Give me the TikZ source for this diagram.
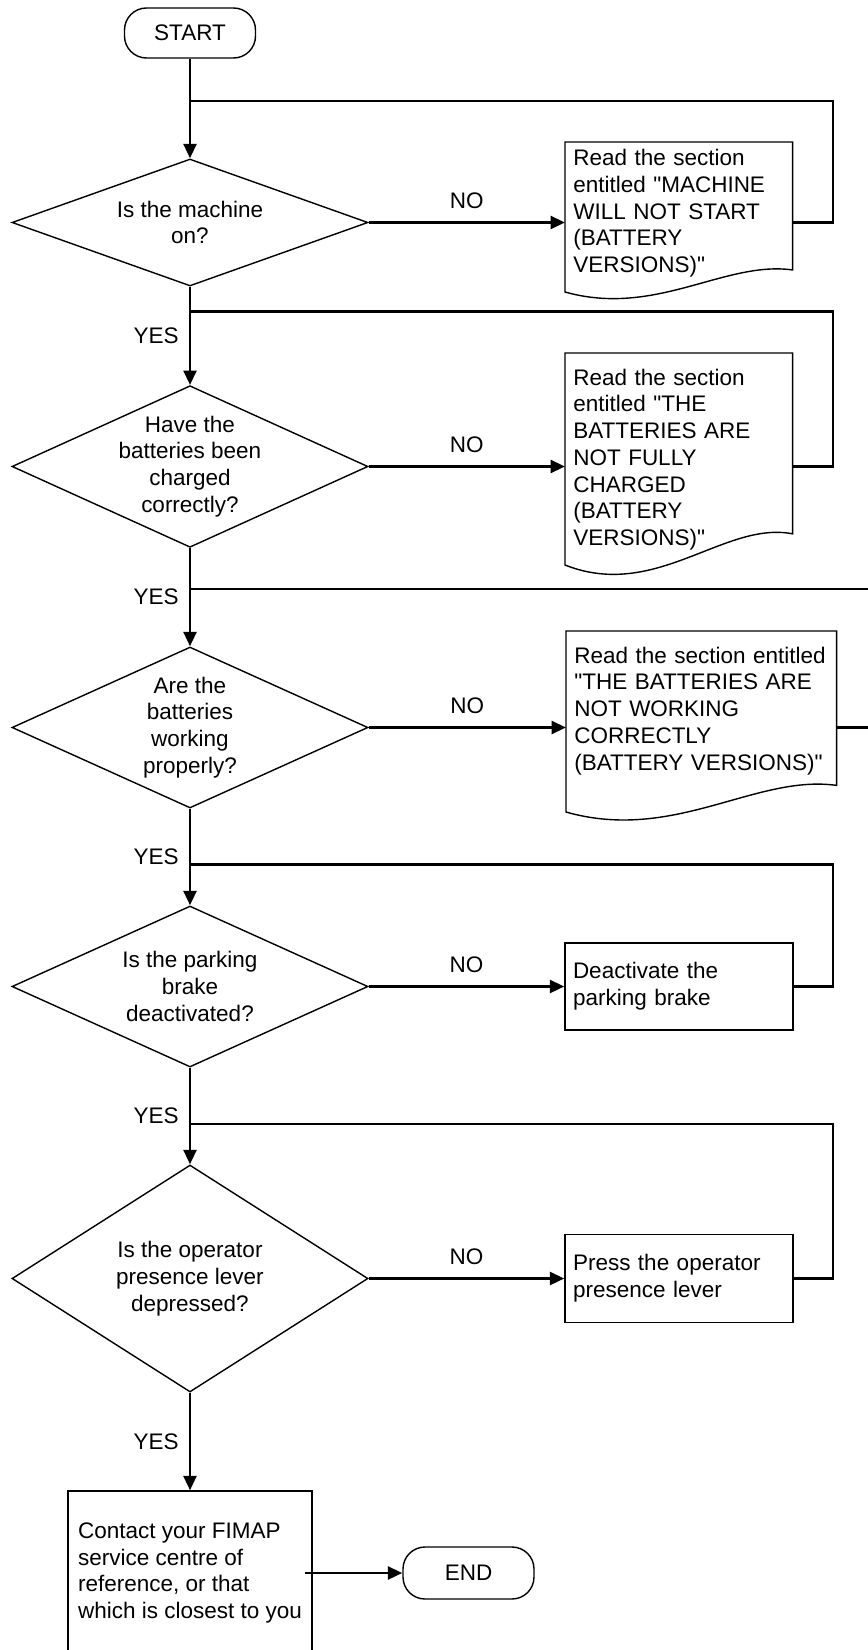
\documentclass[tikz,border=0pt]{standalone}
\usepackage{fontspec}
\setmainfont{Liberation Sans}
\usetikzlibrary{arrows.meta,calc,positioning,shapes.geometric}

\begin{document}
\begin{tikzpicture}[
  font=\fontsize{16}{19}\selectfont,
  terminal/.style={rounded corners=0.55cm,draw,line width=0.035cm,minimum width=3.275cm,minimum height=1.25cm},
  decision/.style={diamond,draw,line width=0.035cm,inner sep=0pt,minimum width=8.9cm},
  question/.style={align=center,inner sep=0pt},
  docnode/.style={anchor=north west,align=left,inner xsep=0.2cm},
  docline/.style={line width=0.035cm},
  action/.style={draw,line width=0.035cm,align=left,inner xsep=0.2cm},
  link/.style={-{Triangle[length=0.36cm,width=0.32cm]},line width=0.07cm},
  loopback/.style={line width=0.07cm},
  answer/.style={inner sep=0pt}
]
\path[use as bounding box,fill=white] (0,0) rectangle (21.675,-41.25);

\node[terminal] (start) at (4.75,-0.825) {START};

\coordinate (rail) at (20.825,0);
\coordinate (j1) at (4.75,-2.525);
\coordinate (j2) at (4.75,-7.7875);
\coordinate (j3) at (4.75,-14.725);
\coordinate (j4) at (4.75,-21.6125);
\coordinate (j5) at (4.75,-28.1);

\node[decision,minimum height=3.175cm] (q1) at (4.75,-5.5625) {};
\node[question] (q1t) at (q1) {Is the machine\\on?};
\node[decision,minimum height=4.04cm] (q2) at (4.75,-11.6625) {};
\node[question] (q2t) at (q2) {Have the\\batteries been\\charged\\correctly?};
\node[decision,minimum height=4.025cm] (q3) at (4.75,-18.1875) {};
\node[question] (q3t) at (q3) {Are the\\batteries\\working\\properly?};
\node[decision,minimum height=4.025cm] (q4) at (4.75,-24.6625) {};
\node[question] (q4t) at (q4) {Is the parking\\brake\\deactivated?};
\node[decision,minimum height=5.675cm] (q5) at (4.75,-31.9625) {};
\node[question] (q5t) at (q5) {Is the operator\\presence lever\\depressed?};

\node[docnode,text width=5.275cm,inner ysep=0.18cm] (d1) at (14.125,-3.55) {Read the section\\entitled \textquotedbl MACHINE\\WILL NOT START\\(BATTERY\\VERSIONS)\textquotedbl};
\node[docnode,text width=5.275cm,inner ysep=0.39cm] (d2) at (14.125,-8.825) {Read the section\\entitled \textquotedbl THE\\BATTERIES ARE\\NOT FULLY\\CHARGED\\(BATTERY\\VERSIONS)\textquotedbl};
\node[docnode,text width=6.35cm,inner ysep=0.39cm] (d3) at (14.15,-15.775) {Read the section entitled\\\textquotedbl THE BATTERIES ARE\\NOT WORKING\\CORRECTLY\\(BATTERY VERSIONS)\textquotedbl};

% document outlines: straight top and sides, wavy bottom edge
\foreach \doc/\w/\h in {d1/5.675/3.75, d2/5.675/5.3, d3/6.75/4.525}
  \draw[docline] (\doc.north west) -- ++(0,-\h) .. controls +(0.4*\w,-0.17*\h) and +(-0.3*\w,0.063*\h) .. ($(\doc.north east)+(0,-0.853*\h)$) -- (\doc.north east) -- cycle;

\node[action,text width=5.3cm,minimum height=2.175cm] (b4) at (16.975,-24.6625) {Deactivate the\\parking brake};
\node[action,text width=5.3cm,minimum height=2.2cm] (b5) at (16.975,-31.9625) {Press the operator\\presence lever};
\node[action,minimum width=6.1cm,minimum height=4.1cm] (b6) at (4.75,-39.325) {Contact your FIMAP\\service centre of\\reference, or that\\which is closest to you};
\node[terminal,minimum height=1.3cm] (finish) at (11.7125,-39.325) {END};

\draw[link] (start) -- (q1);
\foreach \a/\b in {q1/q2,q2/q3,q3/q4,q4/q5,q5/b6}
  \draw[link] (\a) -- node[answer,left=0.25cm]{YES} (\b);
\foreach \src/\dst in {q1/d1,q2/d2,q3/d3,q4/b4,q5/b5}
  \draw[link] (\src.east) -- node[answer,above=0.3cm]{NO} (\src.east -| \dst.west);

% return lines back to the main column
\foreach \src/\dst/\join in {q1/d1/j1,q2/d2/j2,q4/b4/j4,q5/b5/j5}
  \draw[loopback] (\src.east -| \dst.east) -- (\src.east -| rail) |- (\join);
\draw[loopback] (q3.east -| d3.east) -- ++(1.5,0) |- (j3);

\draw[link,shorten <=-0.2cm] (b6) -- (finish);
\end{tikzpicture}
\end{document}
